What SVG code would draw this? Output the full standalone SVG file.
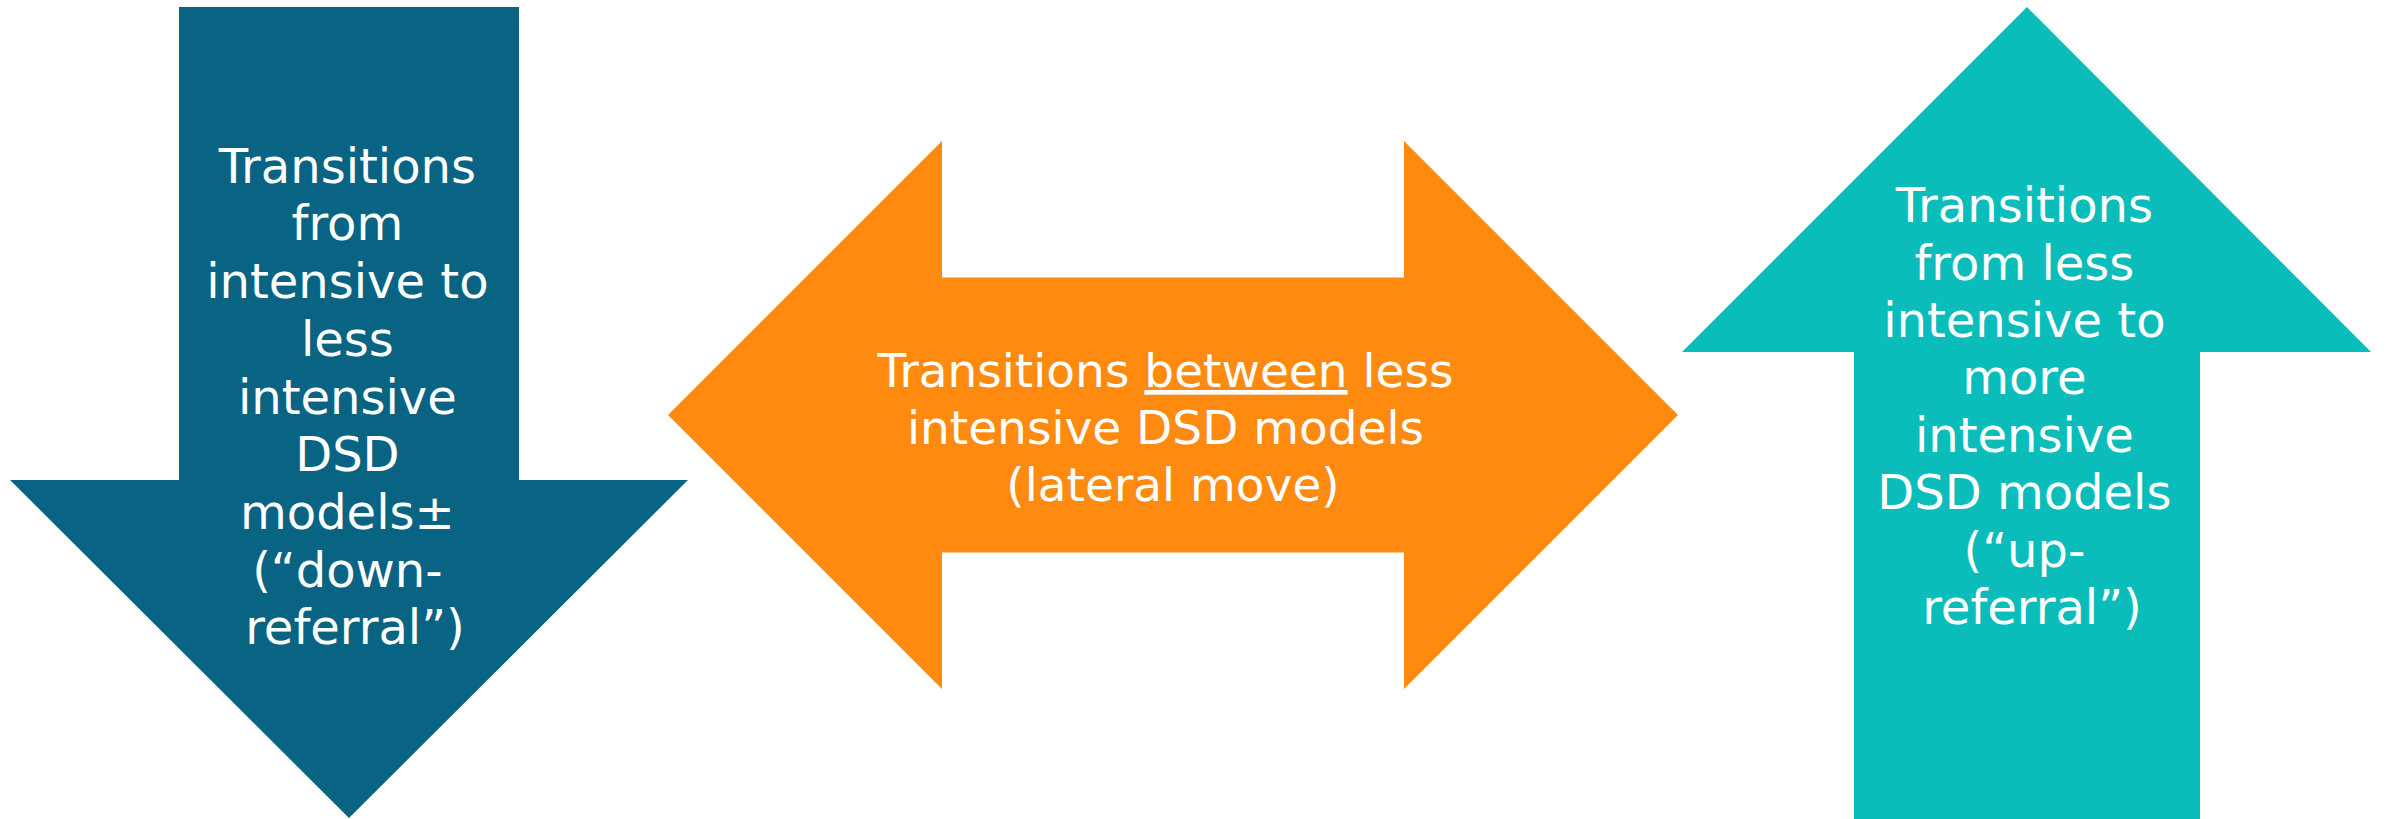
<svg xmlns="http://www.w3.org/2000/svg" width="2389" height="819" viewBox="0 0 2389 819">
  <style>
    .lbl { font-family: "DejaVu Sans", Verdana, sans-serif; font-size: 47px; fill: #ffffff; text-anchor: middle; }
    .side { font-size: 48px; }
    .down { fill: #086482; }
    .lateral { fill: #FF8A10; }
    .up { fill: #0ABDBB; }
  </style>
  <rect width="2389" height="819" fill="#ffffff"/>

  <!-- down-referral arrow -->
  <g id="down-arrow">
    <polygon class="down" points="179,7 519,7 519,480 688,480 349,818 10,480 179,480"/>
    <text class="lbl side">
      <tspan x="355" y="183">Transitions</tspan>
      <tspan x="355" y="240">from</tspan>
      <tspan x="355" y="298">intensive to</tspan>
      <tspan x="355" y="356">less</tspan>
      <tspan x="355" y="414">intensive</tspan>
      <tspan x="355" y="471">DSD</tspan>
      <tspan x="355" y="529">models±</tspan>
      <tspan x="355" y="587">(“down-</tspan>
      <tspan x="355" y="644">referral”)</tspan>
    </text>
  </g>

  <!-- lateral move double arrow -->
  <g id="lateral-arrow">
    <polygon class="lateral" points="668,415 942,141 942,277.5 1404,277.5 1404,141 1678,415 1404,689 1404,552.5 942,552.5 942,689"/>
    <text class="lbl">
      <tspan x="1173" y="387">Transitions <tspan text-decoration="underline">between</tspan> less</tspan>
      <tspan x="1173" y="444">intensive DSD models</tspan>
      <tspan x="1173" y="501">(lateral move)</tspan>
    </text>
  </g>

  <!-- up-referral arrow -->
  <g id="up-arrow">
    <polygon class="up" points="2027,7 2371,352 2200,352 2200,819 1854,819 1854,352 1682,352"/>
    <text class="lbl side">
      <tspan x="2032" y="222">Transitions</tspan>
      <tspan x="2032" y="280">from less</tspan>
      <tspan x="2032" y="337">intensive to</tspan>
      <tspan x="2032" y="394">more</tspan>
      <tspan x="2032" y="452">intensive</tspan>
      <tspan x="2032" y="509">DSD models</tspan>
      <tspan x="2032" y="567">(“up-</tspan>
      <tspan x="2032" y="624">referral”)</tspan>
    </text>
  </g>

  <g id="connectors"/>
</svg>
